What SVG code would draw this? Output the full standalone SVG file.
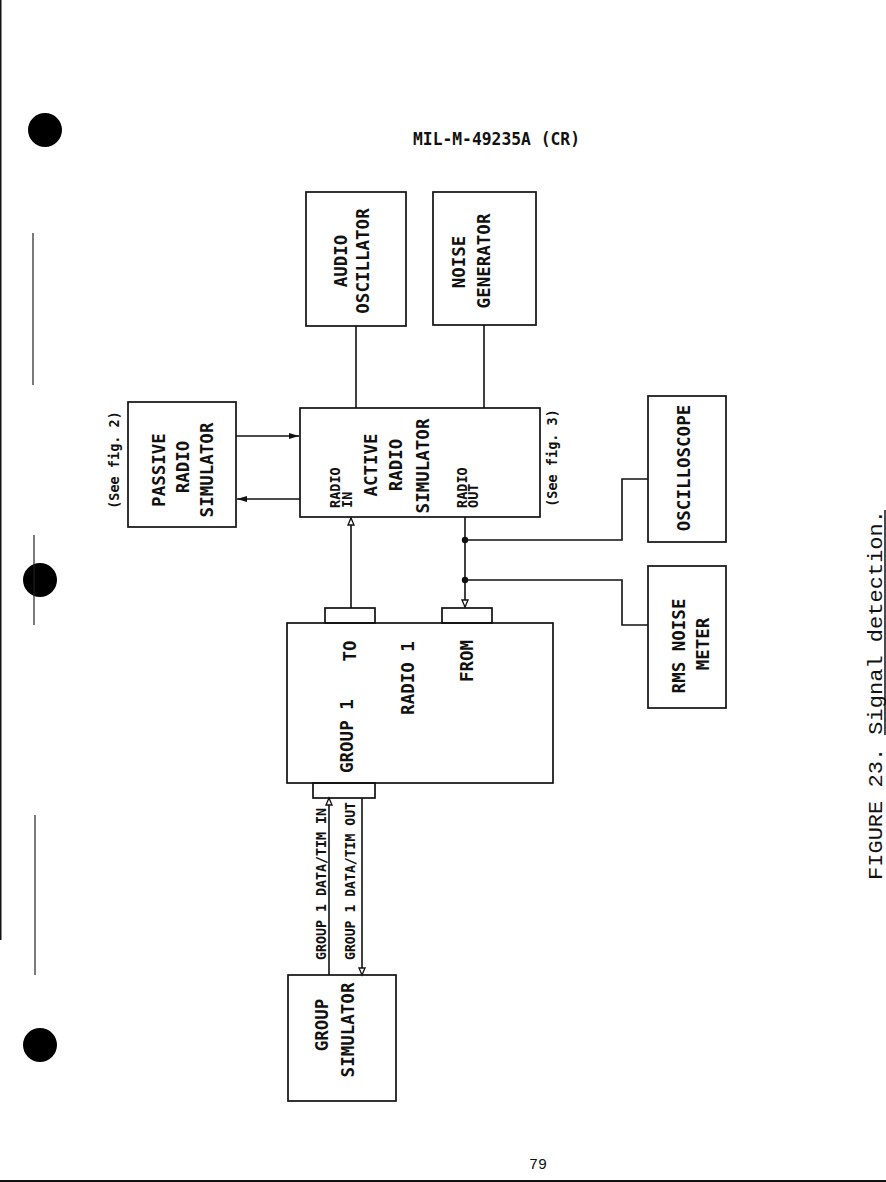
<svg xmlns="http://www.w3.org/2000/svg" width="886" height="1182" viewBox="0 0 886 1182">
<defs>
<style>
.box{fill:none;stroke:#111;stroke-width:1.7}
.ln{fill:none;stroke:#111;stroke-width:1.6}
.t{font-family:"DejaVu Sans Mono","Liberation Mono",monospace;font-weight:bold;font-size:17.5px;fill:#111}
.s{font-family:"DejaVu Sans Mono","Liberation Mono",monospace;font-weight:bold;font-size:13.5px;fill:#111}
.cap{font-family:"Liberation Mono","DejaVu Sans Mono",monospace;font-size:20px;fill:#111}
</style>
<marker id="open" markerWidth="10" markerHeight="10" refX="8" refY="4" orient="auto" markerUnits="userSpaceOnUse">
<path d="M1,1 L8,4 L1,7 Z" fill="#fff" stroke="#111" stroke-width="1.3"/>
</marker>
<marker id="fill" markerWidth="12" markerHeight="10" refX="10" refY="4" orient="auto" markerUnits="userSpaceOnUse">
<path d="M0,1 L10,4 L0,7 Z" fill="#111"/>
</marker>
</defs>
<rect width="886" height="1182" fill="#fff"/>

<!-- page artifacts -->
<rect x="0" y="0" width="1.5" height="940" fill="#111"/>
<circle cx="45" cy="130" r="17" fill="#000"/>
<circle cx="40" cy="580" r="17" fill="#000"/>
<circle cx="40" cy="1045" r="17" fill="#000"/>
<line x1="33" y1="233" x2="33" y2="385" stroke="#222" stroke-width="1.2"/>
<line x1="34" y1="535" x2="34" y2="625" stroke="#222" stroke-width="1.2"/>
<line x1="35" y1="815" x2="35" y2="975" stroke="#222" stroke-width="1.2"/>
<line x1="0" y1="1181" x2="886" y2="1181" stroke="#111" stroke-width="2"/>

<text x="413" y="145" class="t" font-size="16" textLength="167" lengthAdjust="spacingAndGlyphs">MIL-M-49235A (CR)</text>
<text x="529" y="1169" font-family="Liberation Mono, monospace" font-size="15" fill="#111">79</text>

<g transform="translate(882,880) rotate(-90)">
<text x="0" y="0" class="cap" textLength="370" lengthAdjust="spacingAndGlyphs">FIGURE 23. Signal detection.</text>
</g>
<line x1="885" y1="735" x2="885" y2="510" stroke="#111" stroke-width="1.5"/>

<!-- connectors -->
<g id="connectors">
<line class="ln" x1="356" y1="326" x2="356" y2="408"/>
<line class="ln" x1="484" y1="325" x2="484" y2="408"/>
<line class="ln" x1="236" y1="436" x2="299" y2="436" marker-end="url(#fill)"/>
<line class="ln" x1="300" y1="499" x2="237" y2="499" marker-end="url(#fill)"/>
<line class="ln" x1="351" y1="608" x2="351" y2="518" marker-end="url(#open)"/>
<line class="ln" x1="465" y1="517" x2="465" y2="607" marker-end="url(#open)"/>
<circle cx="465" cy="540" r="3.2" fill="#111"/>
<circle cx="465" cy="580" r="3.2" fill="#111"/>
<polyline class="ln" points="465,540 622,540 622,479 648,479"/>
<polyline class="ln" points="465,580 622,580 622,625 648,625"/>
<line class="ln" x1="329" y1="975" x2="329" y2="798" marker-end="url(#open)"/>
<line class="ln" x1="362" y1="798" x2="362" y2="975" marker-end="url(#open)"/>
</g>

<g id="audio-oscillator">
<rect class="box" x="306" y="192" width="100" height="134"/>
<text class="t" transform="translate(341,261) rotate(-90)" text-anchor="middle" dy="0.36em">AUDIO</text>
<text class="t" transform="translate(363,261) rotate(-90)" text-anchor="middle" dy="0.36em">OSCILLATOR</text>
</g>

<g id="noise-generator">
<rect class="box" x="433" y="192" width="103" height="133"/>
<text class="t" transform="translate(459,262) rotate(-90)" text-anchor="middle" dy="0.36em">NOISE</text>
<text class="t" transform="translate(484,261) rotate(-90)" text-anchor="middle" dy="0.36em">GENERATOR</text>
</g>

<g id="passive-radio-simulator">
<rect class="box" x="128" y="402" width="108" height="125"/>
<text class="s" transform="translate(114,460) rotate(-90)" text-anchor="middle" dy="0.36em">(See fig. 2)</text>
<text class="t" transform="translate(159,470) rotate(-90)" text-anchor="middle" dy="0.36em">PASSIVE</text>
<text class="t" transform="translate(183,467) rotate(-90)" text-anchor="middle" dy="0.36em">RADIO</text>
<text class="t" transform="translate(207,470) rotate(-90)" text-anchor="middle" dy="0.36em">SIMULATOR</text>
</g>

<g id="active-radio-simulator">
<rect class="box" x="300" y="408" width="240" height="109"/>
<text class="s" transform="translate(335,508) rotate(-90)" dy="0.36em">RADIO</text>
<text class="s" transform="translate(347,508) rotate(-90)" dy="0.36em">IN</text>
<text class="t" transform="translate(371,465) rotate(-90)" text-anchor="middle" dy="0.36em">ACTIVE</text>
<text class="t" transform="translate(396,465) rotate(-90)" text-anchor="middle" dy="0.36em">RADIO</text>
<text class="t" transform="translate(423,466) rotate(-90)" text-anchor="middle" dy="0.36em">SIMULATOR</text>
<text class="s" transform="translate(462,508) rotate(-90)" dy="0.36em">RADIO</text>
<text class="s" transform="translate(473,508) rotate(-90)" dy="0.36em">OUT</text>
<text class="s" transform="translate(552,458) rotate(-90)" text-anchor="middle" dy="0.36em">(See fig. 3)</text>
</g>

<g id="oscilloscope">
<rect class="box" x="648" y="396" width="78" height="146"/>
<text class="t" transform="translate(684,468) rotate(-90)" text-anchor="middle" dy="0.36em">OSCILLOSCOPE</text>
</g>

<g id="rms-noise-meter">
<rect class="box" x="648" y="566" width="78" height="142"/>
<text class="t" transform="translate(679,646) rotate(-90)" text-anchor="middle" dy="0.36em">RMS NOISE</text>
<text class="t" transform="translate(703,644) rotate(-90)" text-anchor="middle" dy="0.36em">METER</text>
</g>

<g id="group1-radio1">
<rect class="box" x="325" y="608" width="50" height="15"/>
<rect class="box" x="442" y="608" width="50" height="15"/>
<rect class="box" x="313" y="783" width="62" height="15"/>
<rect class="box" x="287" y="623" width="266" height="160"/>
<text class="t" transform="translate(347,773) rotate(-90)" dy="0.36em">GROUP 1</text>
<text class="t" transform="translate(350,651) rotate(-90)" text-anchor="middle" dy="0.36em">TO</text>
<text class="t" transform="translate(408,678) rotate(-90)" text-anchor="middle" dy="0.36em">RADIO 1</text>
<text class="t" transform="translate(467,661) rotate(-90)" text-anchor="middle" dy="0.36em">FROM</text>
</g>

<g id="data-labels">
<text class="s" transform="translate(321,960) rotate(-90)" dy="0.36em" textLength="152" lengthAdjust="spacingAndGlyphs">GROUP 1 DATA/TIM IN</text>
<text class="s" transform="translate(350,960) rotate(-90)" dy="0.36em" textLength="158" lengthAdjust="spacingAndGlyphs">GROUP 1 DATA/TIM OUT</text>
</g>

<g id="group-simulator">
<rect class="box" x="288" y="975" width="108" height="126"/>
<text class="t" transform="translate(322,1025) rotate(-90)" text-anchor="middle" dy="0.36em">GROUP</text>
<text class="t" transform="translate(348,1030) rotate(-90)" text-anchor="middle" dy="0.36em">SIMULATOR</text>
</g>
</svg>
